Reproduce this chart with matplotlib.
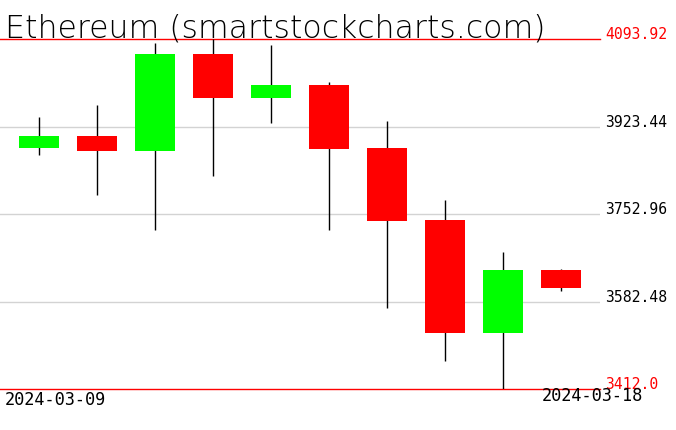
import numpy as np
import matplotlib
matplotlib.use('Agg')
import matplotlib.pyplot as plt

# daily candles
dates = ['2024-03-09', '2024-03-10', '2024-03-11', '2024-03-12', '2024-03-13',
         '2024-03-14', '2024-03-15', '2024-03-16', '2024-03-17', '2024-03-18']
opens = [3881.5, 3904.9, 3875.7, 4065.3, 3979.0, 4004.3, 3881.5, 3741.8, 3521.7, 3643.9]
highs = [3942.0, 3965.3, 4086.1, 4093.92, 4082.8, 4010.1, 3934.7, 3780.2, 3678.9, 3645.8]
lows = [3868.5, 3790.6, 3722.4, 3827.6, 3930.8, 3722.4, 3569.3, 3467.1, 3412.0, 3603.5]
closes = [3904.9, 3875.7, 4065.3, 3979.0, 4004.3, 3879.6, 3739.9, 3521.7, 3643.9, 3609.4]

levels = [4093.92, 3923.44, 3752.96, 3582.48, 3412.0]
level_labels = ['4093.92', '3923.44', '3752.96', '3582.48', '3412.0']

W, H = 676, 431
fig = plt.figure(figsize=(W / 100, H / 100), dpi=100)
ax = fig.add_axes([0, 41 / H, 600 / W, 350 / H])
ax.set_xlim(-0.672, 9.672)
ax.set_ylim(min(levels), max(levels))
ax.axis('off')

# grid lines
for i, lv in enumerate(levels):
    if i == 0 or i == len(levels) - 1:
        ax.axhline(lv, color='red', lw=1, zorder=1, clip_on=False)
    else:
        ax.axhline(lv, color='#d3d3d3', lw=1, zorder=1)

x = np.arange(len(dates))
for i in x:
    o, h, l, c = opens[i], highs[i], lows[i], closes[i]
    col = '#00ff00' if c >= o else '#ff0000'
    ax.vlines(i, l, h, color='black', lw=1, zorder=2)
    ax.bar(i, abs(c - o), bottom=min(o, c), width=0.69, color=col, zorder=3)

# price labels on the right
for i, (lv, lab) in enumerate(zip(levels, level_labels)):
    col = 'red' if i == 0 or i == len(levels) - 1 else 'black'
    ax.annotate(lab, xy=(1, lv), xycoords=('axes fraction', 'data'),
                xytext=(5, 5), textcoords='offset pixels',
                ha='left', va='center', color=col,
                family='DejaVu Sans Mono', fontsize=10.6, clip_on=False)

fig.text(5 / W, 1 - 37 / H, 'Ethereum (smartstockcharts.com)', fontsize=22.7,
         ha='left', va='baseline', fontweight='light', color='black')
fig.text(5 / W, 1 - 400 / H, dates[0], ha='left', va='center',
         family='DejaVu Sans Mono', fontsize=12.2, color='black')
fig.text(542 / W, 1 - 396 / H, dates[-1], ha='left', va='center',
         family='DejaVu Sans Mono', fontsize=12.2, color='black')

fig.savefig('out.png', dpi=100)
